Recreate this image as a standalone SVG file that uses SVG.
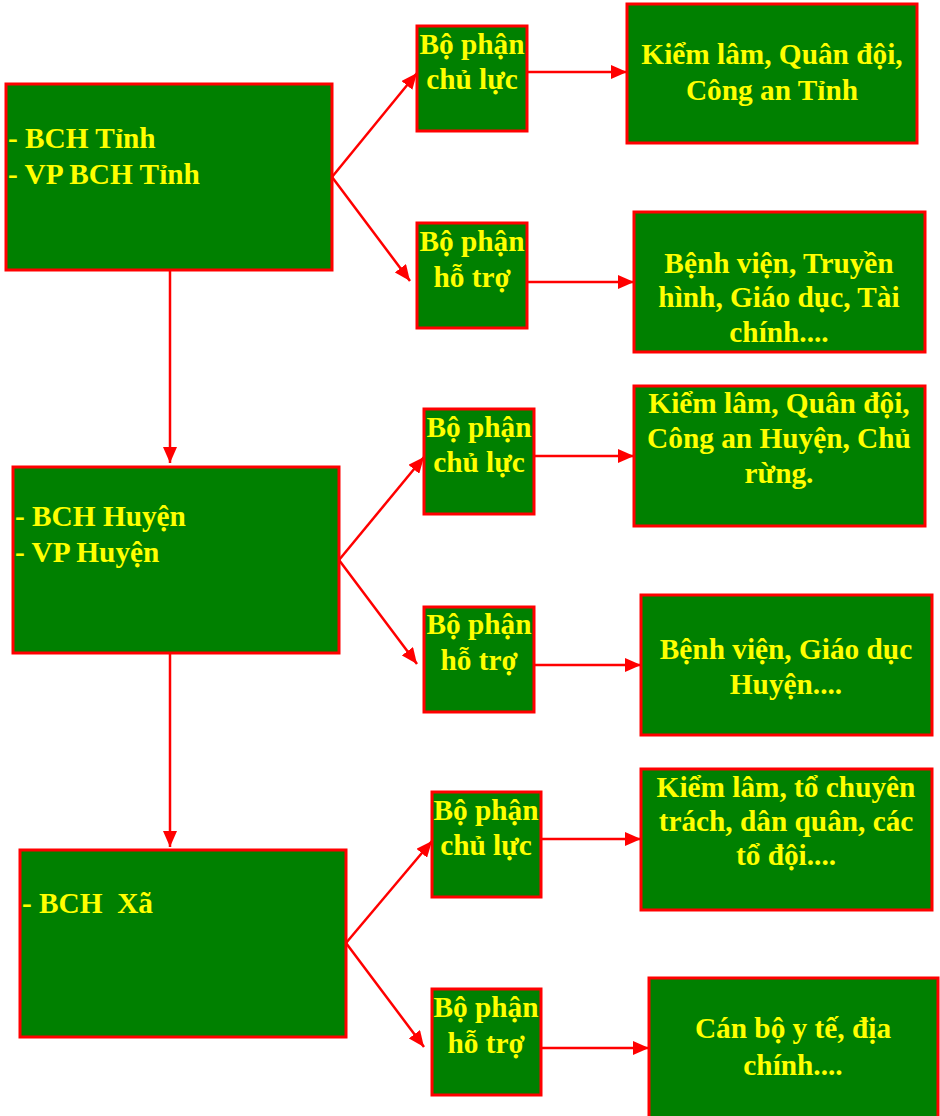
<svg xmlns="http://www.w3.org/2000/svg" width="940" height="1116" viewBox="0 0 940 1116">
<defs>
<marker id="ah" viewBox="0 0 16 14" refX="16" refY="7" markerWidth="16" markerHeight="14" markerUnits="userSpaceOnUse" orient="auto">
<path d="M0,0 L16,7 L0,14 z" fill="#FF0000"/>
</marker>
<style>
.box{fill:#008000;stroke:#FF0000;stroke-width:3}
.t{font-family:"Liberation Serif","Times New Roman",serif;font-weight:bold;font-size:29.3px;fill:#FFFF00;white-space:pre}
.c{text-anchor:middle}
.ln{stroke:#FF0000;stroke-width:2.5;fill:none;marker-end:url(#ah)}
</style>
</defs>
<rect width="940" height="1116" fill="#FFFFFF"/>
<g id="connectors">
<line class="ln" x1="170" y1="271" x2="170" y2="463"/>
<line class="ln" x1="170" y1="653" x2="170" y2="847"/>
<line class="ln" x1="332" y1="177" x2="417" y2="73"/>
<line class="ln" x1="332" y1="177" x2="410" y2="281"/>
<line class="ln" x1="339" y1="560" x2="424" y2="457"/>
<line class="ln" x1="339" y1="560" x2="417" y2="664"/>
<line class="ln" x1="346" y1="943" x2="432" y2="841"/>
<line class="ln" x1="346" y1="943" x2="424" y2="1047"/>
<line class="ln" x1="527" y1="72" x2="627" y2="72"/>
<line class="ln" x1="527" y1="282" x2="634" y2="282"/>
<line class="ln" x1="534" y1="456" x2="634" y2="456"/>
<line class="ln" x1="534" y1="665" x2="641" y2="665"/>
<line class="ln" x1="541" y1="839" x2="641" y2="839"/>
<line class="ln" x1="541" y1="1048" x2="649" y2="1048"/>
</g>
<g id="bch-tinh">
<rect class="box" x="6" y="84" width="326" height="186"/>
<text class="t" x="8" y="148">- BCH Tỉnh</text>
<text class="t" x="8" y="184">- VP BCH Tỉnh</text>
</g>
<g id="tinh-chuluc">
<rect class="box" x="417" y="26" width="110" height="105"/>
<text class="t c" x="472" y="54">Bộ phận</text>
<text class="t c" x="472" y="89">chủ lực</text>
</g>
<g id="tinh-hotro">
<rect class="box" x="417" y="223" width="110" height="105"/>
<text class="t c" x="472" y="251">Bộ phận</text>
<text class="t c" x="472" y="287">hỗ trợ</text>
</g>
<g id="tinh-kl">
<rect class="box" x="627" y="4" width="290" height="139"/>
<text class="t c" x="772" y="64">Kiểm lâm, Quân đội,</text>
<text class="t c" x="772" y="100">Công an Tỉnh</text>
</g>
<g id="tinh-bv">
<rect class="box" x="634" y="212" width="291" height="140"/>
<text class="t c" x="779" y="273">Bệnh viện, Truyền</text>
<text class="t c" x="779" y="307">hình, Giáo dục, Tài</text>
<text class="t c" x="779" y="342">chính....</text>
</g>
<g id="bch-huyen">
<rect class="box" x="13" y="467" width="326" height="186"/>
<text class="t" x="15" y="526">- BCH Huyện</text>
<text class="t" x="15" y="562">- VP Huyện</text>
</g>
<g id="huyen-chuluc">
<rect class="box" x="424" y="409" width="110" height="105"/>
<text class="t c" x="479" y="437">Bộ phận</text>
<text class="t c" x="479" y="472">chủ lực</text>
</g>
<g id="huyen-hotro">
<rect class="box" x="424" y="607" width="110" height="105"/>
<text class="t c" x="479" y="634">Bộ phận</text>
<text class="t c" x="479" y="670">hỗ trợ</text>
</g>
<g id="huyen-kl">
<rect class="box" x="634" y="386" width="291" height="140"/>
<text class="t c" x="779" y="413">Kiểm lâm, Quân đội,</text>
<text class="t c" x="779" y="448">Công an Huyện, Chủ</text>
<text class="t c" x="779" y="483">rừng.</text>
</g>
<g id="huyen-bv">
<rect class="box" x="641" y="595" width="291" height="140"/>
<text class="t c" x="786" y="659">Bệnh viện, Giáo dục</text>
<text class="t c" x="786" y="694">Huyện....</text>
</g>
<g id="bch-xa">
<rect class="box" x="20" y="850" width="326" height="187"/>
<text class="t" x="22" y="913" xml:space="preserve">- BCH  Xã</text>
</g>
<g id="xa-chuluc">
<rect class="box" x="432" y="792" width="109" height="105"/>
<text class="t c" x="486" y="820">Bộ phận</text>
<text class="t c" x="486" y="855">chủ lực</text>
</g>
<g id="xa-hotro">
<rect class="box" x="432" y="989" width="109" height="106"/>
<text class="t c" x="486" y="1017">Bộ phận</text>
<text class="t c" x="486" y="1053">hỗ trợ</text>
</g>
<g id="xa-kl">
<rect class="box" x="641" y="769" width="291" height="141"/>
<text class="t c" x="786" y="797">Kiểm lâm, tổ chuyên</text>
<text class="t c" x="786" y="831">trách, dân quân, các</text>
<text class="t c" x="786" y="865">tổ đội....</text>
</g>
<g id="xa-canbo">
<rect class="box" x="649" y="978" width="289" height="145"/>
<text class="t c" x="793" y="1038">Cán bộ y tế, địa</text>
<text class="t c" x="793" y="1075">chính....</text>
</g>
</svg>
